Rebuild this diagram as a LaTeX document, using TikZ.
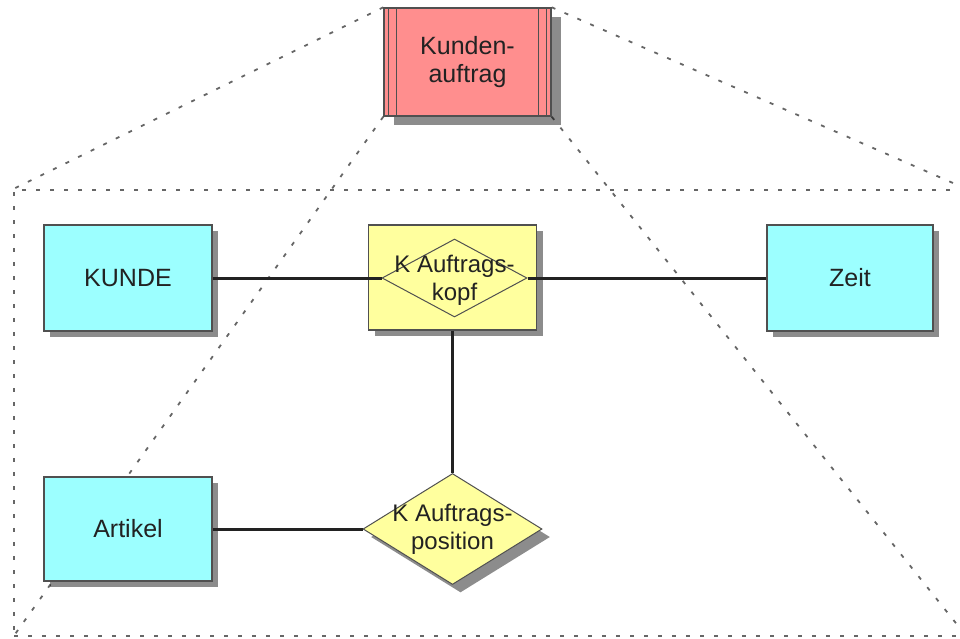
\documentclass[tikz,border=0pt]{standalone}
\usepackage{fontspec}
\setmainfont{Liberation Sans}
\usetikzlibrary{shapes.geometric,shadows}
\pgfdeclarelayer{background}
\pgfsetlayers{background,main}
\definecolor{entcyan}{HTML}{9CFFFF}
\definecolor{relyellow}{HTML}{FFFF9E}
\definecolor{procred}{HTML}{FF8E8E}
\definecolor{edgegray}{HTML}{505050}
\definecolor{inkgray}{HTML}{222222}
\definecolor{dotgray}{HTML}{666666}
\tikzset{
  box/.style={draw=edgegray, line width=1.4pt, inner sep=0pt, text=inkgray,
    font=\fontsize{25}{28}\selectfont, align=center},
  shade6/.style={drop shadow={shadow xshift=6pt, shadow yshift=-6pt, fill=black, opacity=0.45}},
  entity/.style={box, fill=entcyan, shade6},
  relbox/.style={box, fill=relyellow, shade6},
  relship/.style={box, diamond, fill=relyellow, line width=1pt},
  rellabel/.style={text=inkgray, font=\fontsize{24}{28}\selectfont, align=center},
  process/.style={box, fill=procred,
    drop shadow={shadow xshift=10pt, shadow yshift=-9pt, fill=black, opacity=0.45}},
  zoomline/.style={dotgray, line width=1.8pt, dash pattern=on 4pt off 10pt},
  link/.style={inkgray, line width=3pt},
  inner/.style={edgegray, line width=1.1pt}
}
\begin{document}
\begin{tikzpicture}[x=1pt, y=-1pt]
  \useasboundingbox (0,0) rectangle (960,638);
  \clip (0,0) rectangle (960,638);

  % process box with its double side bars
  \node[process, minimum width=167pt, minimum height=108pt] (auftrag) at (467.5,62)
    {Kunden-\\auftrag};
  \foreach \d in {5,13} {
    \draw[inner] ([xshift=\d pt]auftrag.north west) -- ([xshift=\d pt]auftrag.south west);
    \draw[inner] ([xshift=-\d pt]auftrag.north east) -- ([xshift=-\d pt]auftrag.south east);
  }

  % refinement frame
  \node[zoomline, draw, minimum width=952pt, minimum height=446pt, inner sep=0pt]
    (frame) at (490,413) {};

  % entities
  \node[entity, minimum width=168pt, minimum height=106pt] (kunde) at (128,278) {KUNDE};
  \node[entity, minimum width=166pt, minimum height=106pt] (zeit) at (850,278) {Zeit};
  \node[entity, minimum width=168pt, minimum height=104pt] (artikel) at (128,529) {Artikel};

  % relationship type reinterpreted as entity
  \node[relbox, minimum width=168pt, minimum height=105pt] (kopfbox) at (452.5,277.5) {};
  \node[relship, minimum width=145pt, minimum height=78pt,
    label={[rellabel, yshift=-2pt]center:K Auftrags-\\kopf}]
    (kopf) at (454.5,278) {};

  % relationship type
  \node[relship, minimum width=179pt, minimum height=111pt,
    drop shadow={shadow xshift=8pt, shadow yshift=-8pt, fill=black, opacity=0.45},
    label={[rellabel]center:K Auftrags-\\position}]
    (pos) at (452.5,529) {};

  % zoom lines behind everything
  \begin{pgfonlayer}{background}
    \draw[zoomline] (auftrag.north west) -- (frame.north west);
    \draw[zoomline] (auftrag.north east) -- (frame.north east);
    \draw[zoomline] (auftrag.south west) -- (frame.south west);
    \draw[zoomline] (auftrag.south east) -- (frame.south east);
  \end{pgfonlayer}

  % connectors
  \draw[link] (kunde.east) -- (kopf.west);
  \draw[link] (kopf.east) -- (zeit.west);
  \draw[link] (kopfbox.south) -- (pos.north);
  \draw[link] (artikel.east) -- (pos.west);
\end{tikzpicture}
\end{document}
